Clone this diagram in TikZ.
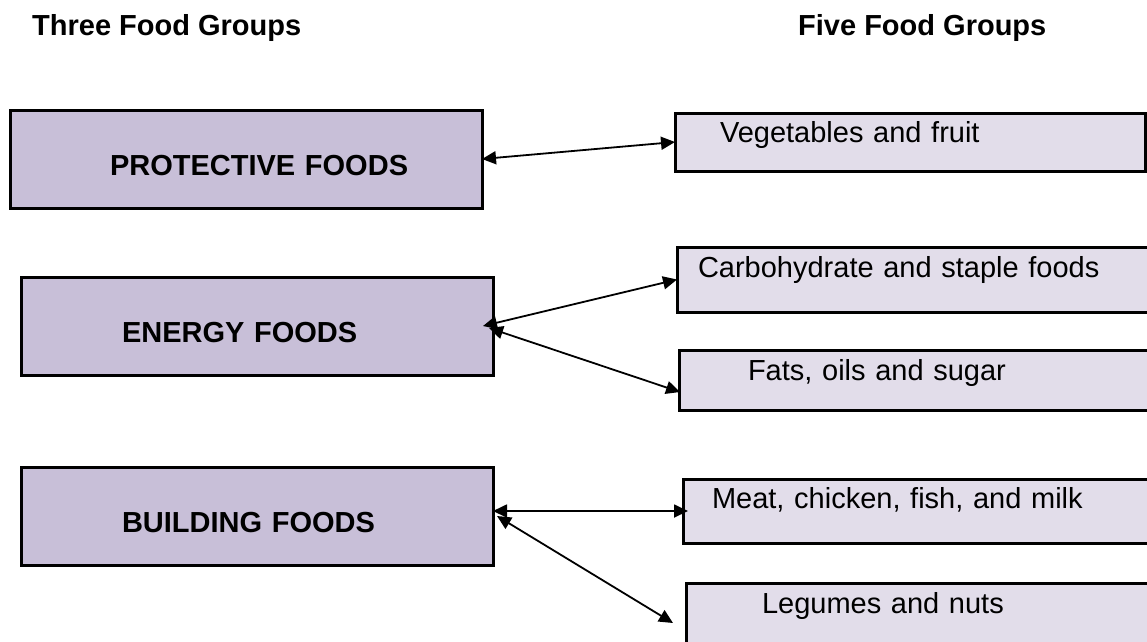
\documentclass[tikz,border=0pt]{standalone}
\usepackage{fontspec}
\setmainfont{Liberation Sans}
\usetikzlibrary{arrows.meta, positioning, calc}

\definecolor{threefill}{RGB}{200,191,216}
\definecolor{fivefill}{RGB}{226,221,234}

\begin{document}
\begin{tikzpicture}[x=1pt, y=-1pt,
    heading/.style={font=\fontsize{29}{34}\selectfont\bfseries, anchor=base west, inner sep=0},
    threebox/.style={draw, line width=3pt, fill=threefill, anchor=north west, inner sep=0, outer sep=0,
        text width=472pt, align=left, text height=65pt, text depth=33pt, font=\fontsize{29}{34}\selectfont\bfseries},
    fivebox/.style={draw, line width=3pt, fill=fivefill, anchor=north west, inner sep=0, outer sep=0,
        align=left, font=\fontsize{29}{34}\selectfont},
    link/.style={{Triangle[length=14pt,width=13pt]}-{Triangle[length=14pt,width=13pt]}, line width=1.8pt}]
    \useasboundingbox (0,0) rectangle (1147,641);
    \clip (0,0) rectangle (1147,641);

    % headings
    \node[heading] (three) at (32,35) {Three Food Groups};
    \node[heading] (five) at (798,35) {Five Food Groups};

    % three food groups
    \node[threebox] (prot) at (10,110) {\hspace*{100pt}PROTECTIVE FOODS};
    \node[threebox] (energy) at (21,277) {\hspace*{101pt}ENERGY FOODS};
    \node[threebox] (build) at (21,467) {\hspace*{101pt}BUILDING FOODS};

    % five food groups
    \node[fivebox, text width=470pt, text height=29pt, text depth=29pt] (veg) at (675,113) {\hspace*{45pt}Vegetables and fruit};
    \node[fivebox, text width=490pt, text height=30pt, text depth=35pt] (carb) at (677,247) {\hspace*{21pt}Carbohydrate and staple foods};
    \node[fivebox, text width=490pt, text height=30pt, text depth=30pt] (fats) at (679,350) {\hspace*{69pt}Fats, oils and sugar};
    \node[fivebox, text width=490pt, text height=29pt, text depth=35pt] (meat) at (683,479) {\hspace*{29pt}Meat, chicken, fish, and milk};
    \node[fivebox, text width=490pt, text height=30pt, text depth=40pt] (legume) at (686,583) {\hspace*{76pt}Legumes and nuts};

    % links
    \draw[link] (prot.east) -- (veg.west);
    \draw[link] ($(energy.east)+(-10,0)$) -- (carb.west);
    \draw[link] ($(energy.east)+(-4,2)$) -- ($(fats.west)+(1,12)$);
    \draw[link] (build.east |- meat.west) -- ($(meat.west)+(5,0)$);
    \draw[link] ($(build.east)+(4,0)$) -- ($(legume.west)+(-13,5)$);
\end{tikzpicture}
\end{document}
